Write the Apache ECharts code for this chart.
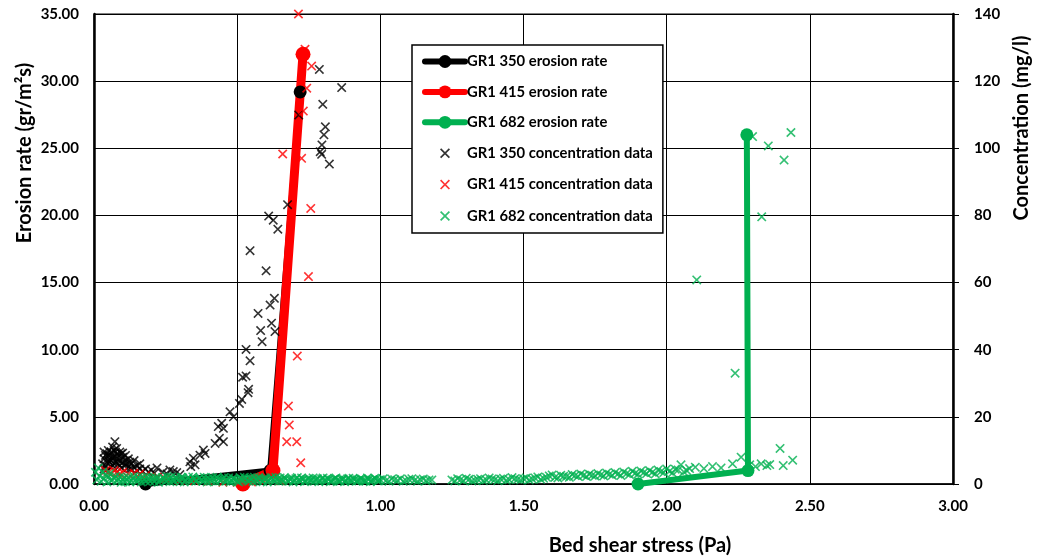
<!DOCTYPE html>
<html>
<head>
<meta charset="utf-8">
<script src="https://cdn.jsdelivr.net/npm/echarts@6/dist/echarts.min.js"></script>
<style>
html,body{margin:0;padding:0;background:#fff;}
#chart{width:1040px;height:558px;}
</style>
</head>
<body>
<div id="chart"></div>
<script>
// ---- Data ----
const xTicks = [0, 0.5, 1, 1.5, 2, 2.5, 3];
const leftTicks = [0, 5, 10, 15, 20, 25, 30, 35];
const rightTicks = [0, 20, 40, 60, 80, 100, 120, 140];

const seriesNames = [
  'GR1 350 erosion rate', 'GR1 415 erosion rate', 'GR1 682 erosion rate',
  'GR1 350 concentration data', 'GR1 415 concentration data', 'GR1 682 concentration data'
];

// erosion rate [shear stress (Pa), erosion rate (gr/m2s)]
const gr350Erosion = [[0.18, 0], [0.615, 1.0], [0.72, 29.2]];
const gr415Erosion = [[0.52, 0], [0.625, 1.0], [0.73, 32.0]];
const gr682Erosion = [[1.90, 0], [2.284, 1.0], [2.28, 26.0]];

// concentration [shear stress (Pa), concentration (mg/l)]
const gr350Conc = [
  [0.03,6],[0.035,7.5],[0.04,8.5],[0.04,5.5],[0.045,9],[0.05,7],[0.05,10],[0.055,6.5],[0.055,8.5],
  [0.06,9.5],[0.06,7],[0.065,11],[0.065,5.5],[0.07,8],[0.073,12.6],[0.075,9.5],[0.075,6.5],[0.079,10.6],
  [0.08,7.5],[0.085,8.5],[0.085,6],[0.09,7],[0.095,9],[0.1,6.5],[0.1,8],[0.105,5.5],[0.11,7],[0.115,6],
  [0.12,5],[0.125,6.5],[0.13,4.5],[0.14,5],[0.15,4],[0.16,4.5],[0.17,3.8],[0.19,3.5],[0.21,3.2],
  [0.035,9.5],[0.045,6.5],[0.05,8.5],[0.06,5],[0.065,8],[0.07,10],[0.07,6],[0.08,9],[0.09,9.5],
  [0.09,5.5],[0.1,9.2],[0.11,8.5],[0.12,7.5],[0.13,6],[0.14,7],[0.15,5.5],[0.16,6],[0.18,4.5],
  [0.2,4.2],[0.22,4.8],[0.035,4.5],[0.045,4.2],[0.095,4.8],[0.125,4.6],
  [0.24,3.5],[0.255,3.0],[0.265,4.2],[0.277,3.7],[0.289,3.4],[0.30,2.8],
  [0.338,5.2],[0.353,5.7],[0.335,6.6],[0.347,7.7],[0.370,8.6],[0.388,9.1],[0.382,10.1],
  [0.423,12.1],[0.452,12.6],[0.438,13.6],[0.452,16.6],[0.434,17.1],[0.446,18.1],
  [0.487,20.0],[0.475,21.5],[0.508,24.0],[0.516,25.2],[0.538,27.2],[0.540,28.2],
  [0.519,31.8],[0.531,32.2],[0.545,36.7],[0.531,40.1],[0.587,42.4],[0.632,45.4],[0.582,45.7],
  [0.620,47.9],[0.573,50.8],[0.615,53.3],[0.630,55.3],[0.601,63.5],[0.545,69.5],
  [0.642,75.9],[0.626,78.6],[0.610,79.8],[0.676,83.2],[0.822,95.3],[0.79,99],[0.795,98.2],
  [0.796,101.0],[0.803,104.0],[0.808,106.4],[0.715,109.9],[0.799,113.1],[0.865,118.1],[0.787,123.5]
];
const gr415Conc = [
  [0.04,4],[0.05,3.5],[0.06,3],[0.07,4],[0.08,3.5],[0.09,3],[0.10,3.5],[0.12,3],[0.14,3.2],
  [0.16,3],[0.18,2.5],[0.20,2],[0.22,2],[0.25,1.5],[0.30,1],[0.35,1],[0.40,0.8],[0.45,0.5],
  [0.50,0.5],[0.55,0.6],[0.60,1.2],[0.65,1.0],
  [0.722,6.3],[0.673,12.6],[0.708,12.6],[0.682,17.6],[0.679,23.2],[0.710,38.1],[0.749,61.8],
  [0.757,82.1],[0.725,97.0],[0.659,98.3],[0.731,111.1],[0.743,117.9],[0.760,124.5],[0.737,129.5],[0.714,140.0]
];
const gr682Conc = [
  [0.005,3.5],[0.01,1.2],[0.015,4.8],[0.02,2.4],[0.025,0.8],[0.03,3.6],[0.035,1.6],[0.04,2.8],
  [0.045,0.6],[0.05,2.0],[0.055,3.2],[0.06,1.0],
  [0.07,1.8],[0.08,0.9],[0.09,2.1],[0.10,1.3],[0.11,0.7],[0.12,1.9],[0.13,1.1],[0.14,2.2],[0.15,0.8],
  [0.16,1.5],[0.17,1.9],[0.18,0.9],[0.19,1.4],[0.20,2.0],[0.21,0.7],[0.22,1.6],[0.23,1.1],[0.24,1.9],
  [0.25,0.8],[0.26,1.4],[0.27,2.1],[0.28,1.0],[0.29,1.6],[0.30,0.7],[0.31,1.8],[0.32,1.2],[0.33,2.0],
  [0.34,0.9],[0.35,1.5],[0.36,1.1],[0.37,1.9],[0.38,0.8],[0.39,1.4],[0.40,1.7],[0.41,0.9],[0.42,1.3],
  [0.43,2.0],[0.44,1.0],[0.45,1.6],[0.46,0.8],[0.47,1.8],[0.48,1.2],[0.49,1.5],[0.50,0.9],[0.51,1.9],
  [0.52,1.1],[0.53,1.6],[0.54,0.8],[0.55,1.4],[0.56,2.0],[0.57,1.0],[0.58,1.5],[0.59,0.7],[0.60,1.7],
  [0.61,1.2],[0.62,1.9],[0.63,0.9],[0.64,1.4],[0.65,1.8],[0.66,1.0],[0.67,1.5],[0.68,0.8],[0.69,1.7],
  [0.70,1.2],[0.71,1.9],[0.72,0.9],[0.73,1.4],[0.74,1.0],[0.75,1.7],[0.76,1.2],[0.77,0.8],[0.78,1.6],
  [0.79,1.1],[0.80,1.8],[0.81,0.9],[0.82,1.4],[0.83,1.0],[0.84,1.6],[0.85,1.2],[0.86,0.8],[0.87,1.5],
  [0.88,1.1],[0.89,1.7],[0.90,0.9],[0.91,1.3],[0.92,1.0],[0.93,1.6],[0.94,1.2],[0.95,0.8],[0.96,1.4],
  [0.97,1.1],[0.98,1.7],[0.99,0.9],[1.00,1.3],[1.02,1.0],[1.04,1.5],[1.06,1.1],[1.08,0.8],[1.10,1.4],
  [1.12,1.1],[1.14,1.3],[1.16,1.0],[1.18,1.2],
  [0.065,1.2],[0.075,2.3],[0.085,1.5],[0.095,0.5],[0.105,1.9],[0.115,1.4],[0.125,0.6],[0.135,1.6],
  [0.145,1.2],[0.155,2.0],[0.165,0.6],[0.175,1.3],[0.185,2.1],[0.195,0.8],[0.205,1.5],[0.215,1.9],
  [0.225,0.5],[0.235,1.3],[0.245,1.6],[0.255,2.2],[0.265,0.7],[0.275,1.2],[0.285,1.9],[0.295,1.3],
  [0.305,2.0],[0.315,0.6],[0.325,1.5],[0.335,1.3],[0.345,2.1],[0.355,0.8],[0.365,1.6],[0.375,1.3],
  [0.385,2.0],[0.395,0.6],[0.405,1.4],[0.415,1.9],[0.425,0.7],[0.435,1.5],[0.445,1.3],[0.455,2.0],
  [0.465,1.1],[0.475,0.6],[0.485,1.7],[0.495,1.3],[0.505,0.6],[0.515,1.5],[0.525,2.0],[0.535,1.2],
  [0.545,1.8],[0.555,0.7],[0.565,1.5],[0.575,1.9],[0.585,1.1],[0.595,1.4],[0.605,0.6],[0.615,1.5],
  [0.625,1.3],[0.635,2.0],[0.645,0.8],[0.655,1.3],[0.665,1.9],[0.675,1.1],[0.685,1.4],[0.695,0.6],
  [0.705,1.6],[0.715,1.3],[0.725,1.8],[0.735,0.7],[0.745,1.4],[0.755,1.1],[0.765,1.8],[0.775,1.3],
  [0.785,0.7],[0.795,1.5],[0.805,1.2],[0.815,1.7],[0.825,0.7],[0.835,1.3],[0.845,1.8],[0.855,1.0],
  [0.865,1.4],[0.875,0.7],[0.885,1.5],[0.895,1.3],[0.905,1.7],[0.915,0.8],[0.925,1.2],[0.935,1.5],
  [0.945,1.0],[0.955,1.8],[0.965,0.7],[0.975,1.3],[0.985,1.5],[0.995,1.1],[1.01,1.6],[1.03,0.8],
  [1.05,1.3],[1.07,1.6],[1.09,1.0],[1.11,1.6],[1.13,0.8],[1.15,1.5],[1.17,1.2],
  [1.25,1.2],[1.27,1.6],[1.29,1.0],[1.31,1.4],[1.33,1.1],[1.35,1.6],[1.37,1.2],[1.39,1.5],[1.41,1.0],
  [1.43,1.7],[1.45,1.3],[1.47,1.6],[1.49,1.2],[1.51,1.8],[1.53,1.5],[1.55,2.1],[1.57,1.7],[1.59,2.4],
  [1.61,2.0],[1.63,2.6],[1.65,2.2],[1.67,2.8],[1.69,2.3],[1.71,2.6],[1.73,2.9],[1.75,2.4],[1.77,2.7],
  [1.79,3.3],[1.81,2.6],[1.83,3.0],[1.85,3.6],[1.87,2.8],[1.89,3.2],[1.91,3.9],[1.93,3.1],[1.95,3.5],
  [1.97,4.2],[1.99,3.4],[2.01,3.8],[2.03,4.4],[2.05,5.7],[2.07,4.0],[2.10,5.0],[2.13,4.6],[2.16,5.2],
  [1.26,0.9],[1.28,1.3],[1.30,1.7],[1.32,0.9],[1.34,1.4],[1.36,1.0],[1.38,1.8],[1.40,1.3],[1.42,1.5],
  [1.44,1.1],[1.46,1.9],[1.48,1.4],[1.50,1.6],[1.52,1.2],[1.54,1.8],[1.56,1.4],[1.58,2.0],[1.60,2.7],
  [1.62,1.8],[1.64,2.3],[1.66,2.0],[1.68,2.5],[1.70,3.0],[1.72,2.2],[1.74,2.6],[1.76,3.1],[1.78,2.4],
  [1.80,2.9],[1.82,3.4],[1.84,2.5],[1.86,3.1],[1.88,3.8],[1.90,2.9],[1.92,3.4],[1.94,4.0],[1.96,3.0],
  [1.98,3.7],[2.00,4.5],[2.02,3.3],[2.04,4.2],[2.06,3.6],[2.08,4.6],
  [2.19,4.8],[2.23,6.0],[2.26,8.0],[2.29,5.7],[2.31,5.2],[2.33,6.0],[2.35,5.5],[2.36,5.8],[2.407,5.5],
  [2.44,7.1],[2.396,10.6],
  [2.105,60.8],[2.239,33.0],[2.30,103.5],[2.355,100.7],[2.434,104.7],[2.41,96.5],[2.332,79.6]
];

const colors = { black: '#000000', red: '#FF0000', green: '#00B050' };

// ---- Chart ----
const FONT = 'Lato, "Open Sans", sans-serif';
const crossBody = 'M0,1.2L1.2,0L5,3.8L8.8,0L10,1.2L6.2,5L10,8.8L8.8,10L5,6.2L1.2,10L0,8.8L3.8,5Z';
const cross = 'path://' + crossBody;
// legend icon: same cross with invisible zero-area corner points to leave margin
const crossLegend = 'path://M-3,-3L-3,-3L-3,-3ZM13,13L13,13L13,13Z' + crossBody;

const chart = echarts.init(document.getElementById('chart'), null, { renderer: 'canvas' });

function lineSeries(name, data, color, width, symSize) {
  return {
    name, type: 'line', data, xAxisIndex: 0, yAxisIndex: 0,
    symbol: 'circle', symbolSize: symSize, showSymbol: true, clip: false,
    lineStyle: { color, width, join: 'round', cap: 'round' },
    itemStyle: { color },
    z: 2
  };
}
function scatterSeries(name, data, color) {
  return {
    name, type: 'scatter', data, xAxisIndex: 0, yAxisIndex: 1,
    symbol: cross, symbolSize: 9.5, clip: false,
    itemStyle: { color },
    z: 3
  };
}

const TITLE_FONT = 'bold 20px ' + FONT;

const option = {
  animation: false,
  backgroundColor: '#fff',
  grid: { left: 94, right: 87, top: 14, bottom: 74, show: true, borderColor: '#000', borderWidth: 1, backgroundColor: 'transparent' },
  xAxis: {
    type: 'value', min: xTicks[0], max: xTicks[xTicks.length - 1], interval: 0.5,
    axisLine: { show: true, lineStyle: { color: '#000', width: 1.5 } },
    axisTick: { show: false },
    splitLine: { show: true, lineStyle: { color: '#000', width: 1 } },
    axisLabel: { margin: 15, color: '#000', fontFamily: FONT, fontWeight: 'bold', fontSize: 15,
      formatter: v => v.toFixed(2) }
  },
  yAxis: [
    {
      type: 'value', min: leftTicks[0], max: leftTicks[leftTicks.length - 1], interval: 5,
      axisLine: { show: true, lineStyle: { color: '#000', width: 2.5 } },
      axisTick: { show: false },
      splitLine: { show: true, lineStyle: { color: '#000', width: 1 } },
      axisLabel: { margin: 15, color: '#000', fontFamily: FONT, fontWeight: 'bold', fontSize: 15,
        formatter: v => v.toFixed(2) }
    },
    {
      type: 'value', position: 'right', min: rightTicks[0], max: rightTicks[rightTicks.length - 1], interval: 20,
      axisLine: { show: true, lineStyle: { color: '#000', width: 2.5 } },
      axisTick: { show: true, inside: false, length: 6, lineStyle: { color: '#000', width: 1 } },
      splitLine: { show: false },
      axisLabel: { margin: 21, color: '#000', fontFamily: FONT, fontWeight: 'bold', fontSize: 15 }
    }
  ],
  legend: {
    orient: 'vertical', left: 412, top: 45,
    padding: [9, 10, 9, 10], itemGap: 15.4, itemWidth: 40, itemHeight: 16,
    backgroundColor: '#fff', borderColor: '#000', borderWidth: 1.5,
    textStyle: { color: '#000', fontFamily: FONT, fontWeight: 'bold', fontSize: 14.8, padding: [0, 0, 0, -3] },
    data: [
      { name: seriesNames[0], lineStyle: { width: 6 } },
      { name: seriesNames[1], lineStyle: { width: 6 } },
      { name: seriesNames[2], lineStyle: { width: 6 } },
      { name: seriesNames[3], icon: crossLegend },
      { name: seriesNames[4], icon: crossLegend },
      { name: seriesNames[5], icon: crossLegend }
    ]
  },
  graphic: [
    { type: 'text', x: 640, y: 546, style: { text: 'Bed shear stress (Pa)', fill: '#000', font: TITLE_FONT, textAlign: 'center', textVerticalAlign: 'middle' } },
    { type: 'text', x: 25, y: 153, rotation: Math.PI / 2, style: { text: 'Erosion rate (gr/m\u00B2s)', fill: '#000', font: TITLE_FONT, textAlign: 'center', textVerticalAlign: 'middle' } },
    { type: 'text', x: 1022, y: 128, rotation: Math.PI / 2, style: { text: 'Concentration (mg/l)', fill: '#000', font: TITLE_FONT, textAlign: 'center', textVerticalAlign: 'middle' } }
  ],
  series: [
    lineSeries(seriesNames[0], gr350Erosion, colors.black, 6, 13),
    lineSeries(seriesNames[1], gr415Erosion, colors.red, 9, 15),
    lineSeries(seriesNames[2], gr682Erosion, colors.green, 6, 13),
    scatterSeries(seriesNames[3], gr350Conc, colors.black),
    scatterSeries(seriesNames[4], gr415Conc, colors.red),
    scatterSeries(seriesNames[5], gr682Conc, colors.green)
  ]
};
chart.setOption(option);
</script>
</body>
</html>
